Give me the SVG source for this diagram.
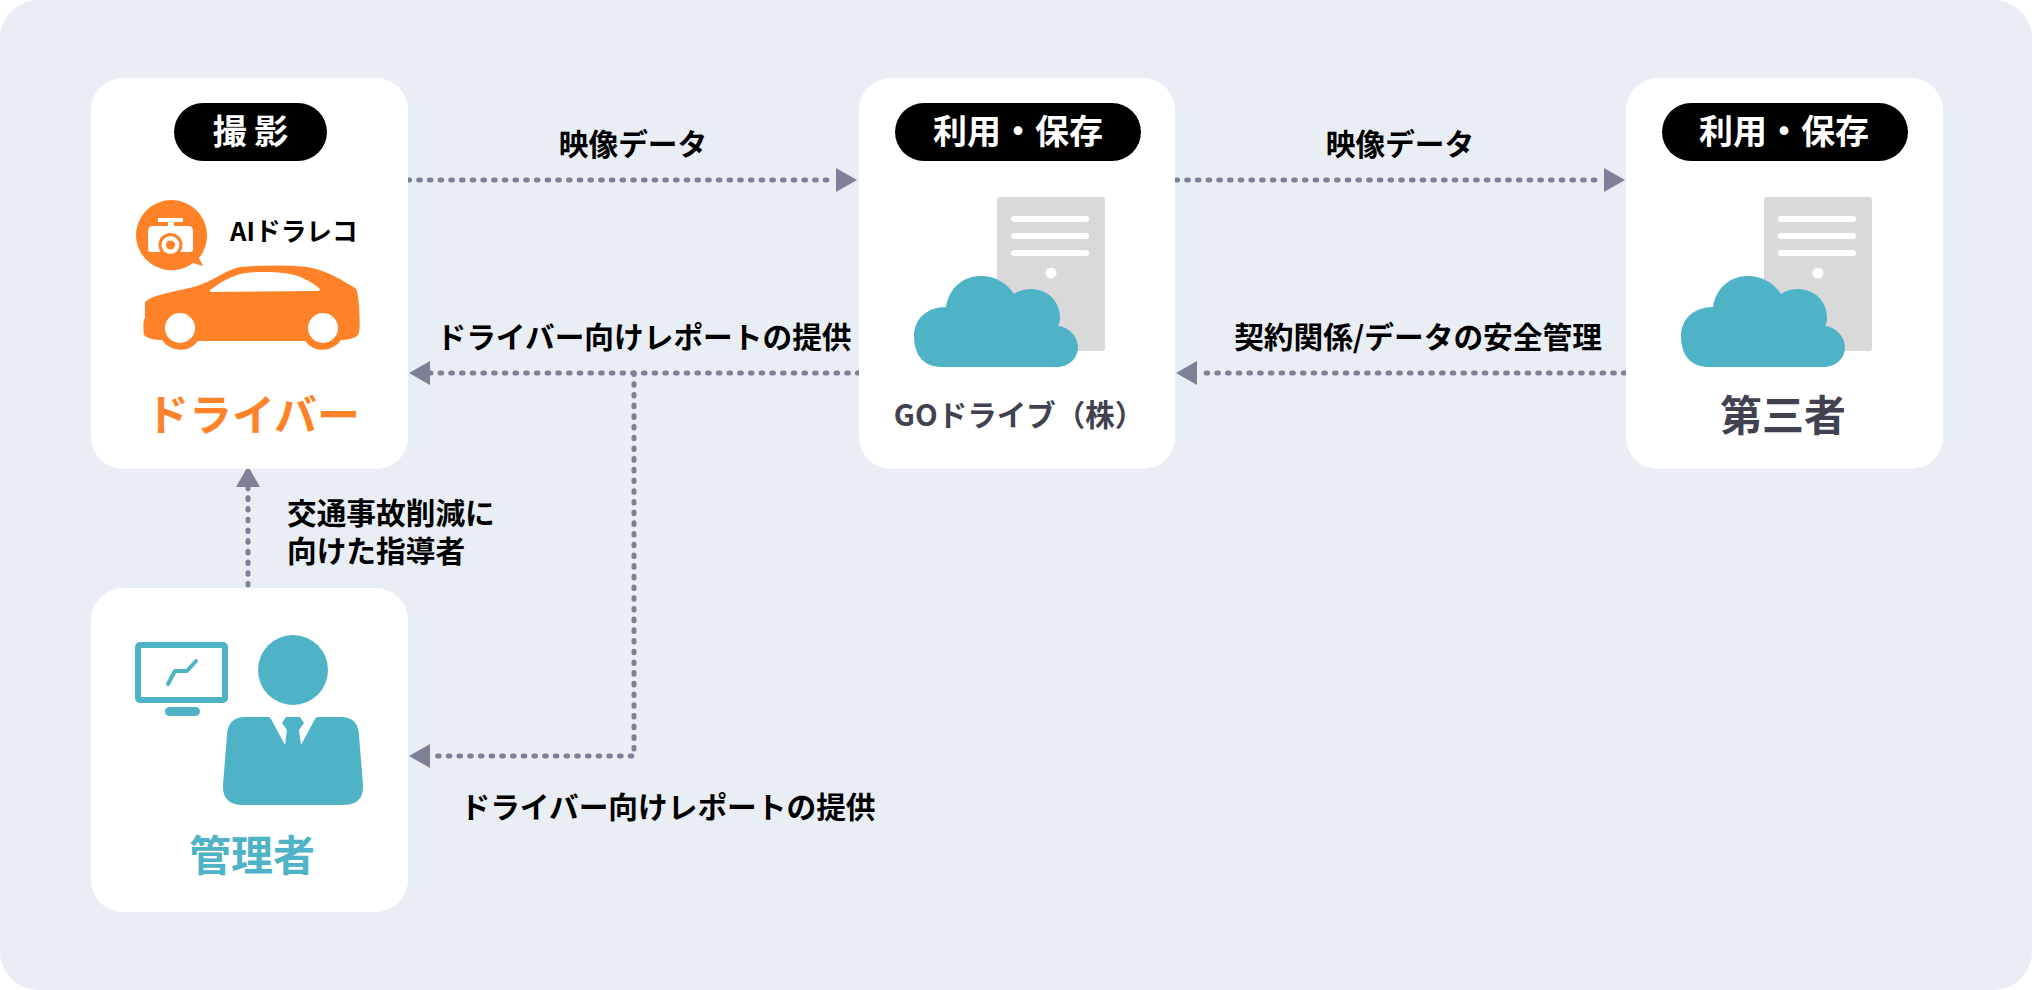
<svg xmlns="http://www.w3.org/2000/svg" width="2032" height="990" viewBox="0 0 2032 990">
<style>
text{font-family:"Noto Sans CJK JP","Noto Sans",sans-serif;font-weight:700}
.card{fill:#fff}
.pill{fill:#000}
.pt{fill:#fff;font-size:34px;text-anchor:middle}
.lb{fill:#000;font-size:29.700px;text-anchor:middle}
.con{fill:none;stroke:#7d8097;stroke-width:5;stroke-linecap:round;stroke-dasharray:1.6 9.1}
.teal{fill:#4fb3c8}
.org{fill:#ff8228}
.gray{fill:#d9d9d9}
</style>
<defs>
<marker id="arr" markerUnits="userSpaceOnUse" markerWidth="22" markerHeight="26" refX="0" refY="12" orient="auto"><path d="M0 0L21 12L0 24Z" fill="#7d8097"/></marker>
<g id="srv">
<rect class="gray" x="997" y="197" width="108" height="154" rx="3"/>
<g fill="#fff"><rect x="1011" y="216" width="78" height="6" rx="3"/><rect x="1011" y="233" width="78" height="6" rx="3"/><rect x="1011" y="250" width="78" height="6" rx="3"/><circle cx="1051" cy="273" r="5.500"/></g>
<path class="teal" d="M942 367C917 367 914 346 914 336C914 318 928 307 946 307C949 288 963 276 981 276C995 276 1007 283 1014 294C1020 290 1026 289 1031 289C1049 289 1060 303 1060 317C1060 322 1059 325 1058 326C1070 327 1078 338 1078 347C1078 358 1069 367 1057 367Z"/>
</g>
</defs>
<rect width="2032" height="990" rx="38" fill="#e9edf4"/>
<g id="connectors">
<path class="con" d="M408 180H836" marker-end="url(#arr)"/>
<path class="con" d="M1176 180H1604" marker-end="url(#arr)"/>
<path class="con" d="M859 373H430" marker-end="url(#arr)"/>
<path class="con" d="M1625 373H1197" marker-end="url(#arr)"/>
<path class="con" d="M634 373V756H430" marker-end="url(#arr)"/>
<path class="con" d="M248 585V487" marker-end="url(#arr)"/>
</g>
<g id="node-driver">
<rect class="card" x="91" y="78" width="317" height="391" rx="32"/>
<rect class="pill" x="174" y="103" width="153" height="58" rx="29"/>
<text class="pt" x="250.500" y="144">撮 影</text>
<path class="org" d="M136 235A35.500 35.500 0 1 1 199 258L203 266L193 263A35.500 35.500 0 0 1 136 235Z"/>
<path fill="#fff" d="M158 218H183V222H174V226H188Q193 226 193 231V249Q193 252 190 252H151Q148 252 148 249V231Q148 226 153 226H168V222H158Z"/>
<circle class="org" cx="170.500" cy="245" r="12"/>
<circle fill="#fff" cx="170.500" cy="245" r="9"/><circle class="org" cx="170.500" cy="245" r="4.500"/>
<text x="230" y="241" font-size="25.700" fill="#000">AIドラレコ</text>
<path class="org" d="M145 303C147 295 185 290 197 286C215 280 225 270 240 267C265 265 295 265 312 268C330 272 345 282 355 288C358 290 358 297 359 305C360 320 360 332 358 335C355 339 345 340 341 340A22 22 0 0 1 305 341H198A22 22 0 0 1 162 340C155 340 146 338 144 335C143 328 143 320 145 318Z"/>
<path fill="#fff" d="M210 290C220 283 230 276 245 273C265 271 285 272 298 276C308 280 316 285 320 289Q320 291 316 291L213 292Q209 292 210 290Z"/>
<circle fill="#fff" cx="180" cy="328" r="15"/><circle fill="#fff" cx="323" cy="328" r="15"/>
<text x="253" y="431" text-anchor="middle" font-size="43" fill="#ff8228">ドライバー</text>
</g>
<g id="node-go">
<rect class="card" x="859" y="78" width="316" height="391" rx="32"/>
<rect class="pill" x="895" y="103" width="246" height="58" rx="29"/>
<text class="pt" x="1018" y="144">利用・保存</text>
<use href="#srv"/>
<text x="1019" y="426" text-anchor="middle" font-size="29.500" fill="#41414f">GOドライブ（株）</text>
</g>
<g id="node-third">
<rect class="card" x="1626" y="78" width="317" height="391" rx="32"/>
<rect class="pill" x="1662" y="103" width="246" height="58" rx="29"/>
<text class="pt" x="1784" y="144">利用・保存</text>
<use href="#srv" x="767"/>
<text x="1783" y="431" text-anchor="middle" font-size="42" fill="#41414f">第三者</text>
</g>
<g id="node-admin">
<rect class="card" x="91" y="588" width="317" height="324" rx="32"/>
<rect x="138" y="645" width="87" height="55" rx="2" fill="none" stroke="#4fb3c8" stroke-width="6"/>
<path d="M168 684L175 671H187L196 661" fill="none" stroke="#4fb3c8" stroke-width="4" stroke-linecap="round" stroke-linejoin="round"/>
<rect class="teal" x="165" y="707" width="35" height="9" rx="4.500"/>
<circle class="teal" cx="293" cy="670" r="35"/>
<path class="teal" d="M245 717H268Q270 717 271 719L285 745L287 730L282 723L286 717H300L304 723L299 730L301 745L315 719Q316 717 318 717H341Q358 717 359 735L363 785Q364 805 343 805H243Q222 805 223 785L227 735Q228 717 245 717Z"/>
<text x="252" y="871" text-anchor="middle" font-size="42" fill="#4fb3c8">管理者</text>
</g>
<g id="labels">
<text class="lb" x="633" y="155">映像データ</text>
<text class="lb" x="1400" y="155">映像データ</text>
<text class="lb" x="644" y="348">ドライバー向けレポートの提供</text>
<text class="lb" x="1418" y="348">契約関係/データの安全管理</text>
<text class="lb" x="668" y="818">ドライバー向けレポートの提供</text>
<text class="lb" style="text-anchor:start"><tspan x="287" y="524">交通事故削減に</tspan><tspan x="287" y="562">向けた指導者</tspan></text>
</g>
</svg>
